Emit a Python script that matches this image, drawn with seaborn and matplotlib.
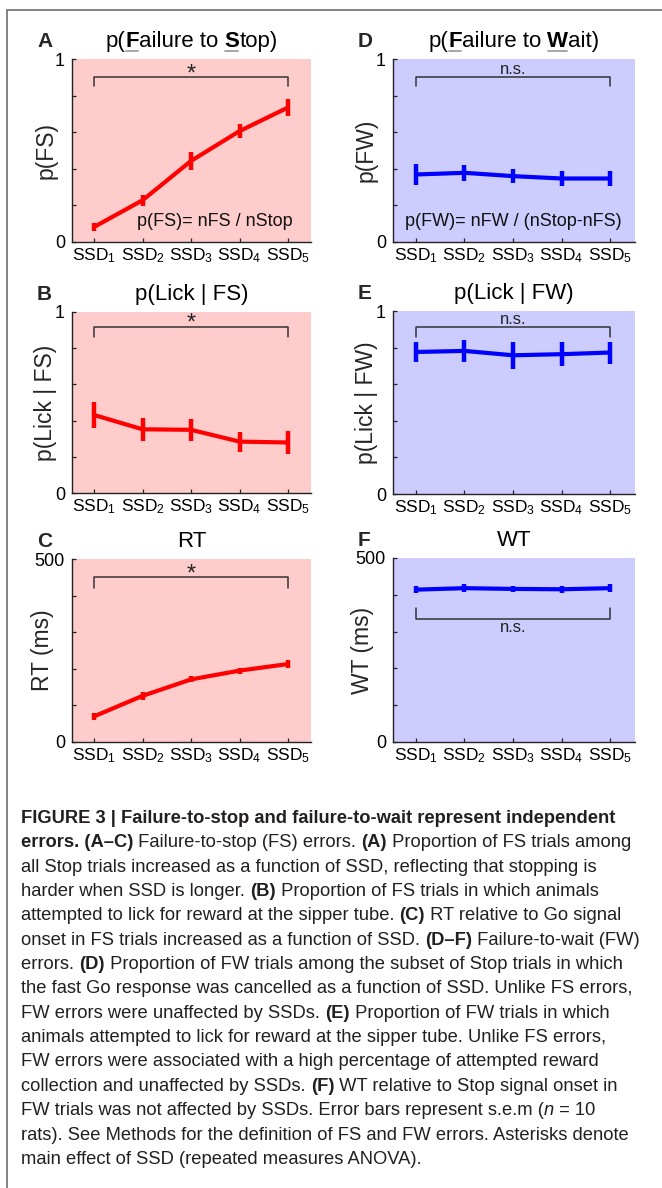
import matplotlib
matplotlib.use("Agg")
import matplotlib.pyplot as plt
from matplotlib.transforms import IdentityTransform
from matplotlib.lines import Line2D
import seaborn as sns
import pandas as pd
from matplotlib import font_manager

# ---------------- data ----------------
ssd_x = [1, 2, 3, 4, 5]
ssd_labels = ["SSD$_1$", "SSD$_2$", "SSD$_3$", "SSD$_4$", "SSD$_5$"]

pfs_mean = [0.082, 0.228, 0.443, 0.606, 0.735]
pfs_sem = [0.023, 0.030, 0.050, 0.040, 0.045]

plick_fs_mean = [0.431, 0.352, 0.349, 0.284, 0.279]
plick_fs_sem = [0.070, 0.062, 0.060, 0.055, 0.062]

rt_mean = [70, 126, 171, 195, 213]
rt_sem = [9, 10, 8, 8, 11]

pfw_mean = [0.369, 0.378, 0.360, 0.347, 0.347]
pfw_sem = [0.055, 0.045, 0.040, 0.042, 0.040]

plick_fw_mean = [0.776, 0.782, 0.758, 0.764, 0.773]
plick_fw_sem = [0.057, 0.062, 0.073, 0.067, 0.060]

wt_mean = [414, 418, 416, 415, 418]
wt_sem = [10, 10, 8, 10, 10]

caption_lines = [
    [("FIGURE 3 | Failure-to-stop and failure-to-wait represent independent", "b")],
    [("errors. (A\u2013C)", "b"), (" Failure-to-stop (FS) errors. ", "n"), ("(A)", "b"),
     (" Proportion of FS trials among", "n")],
    [("all Stop trials increased as a function of SSD, reflecting that stopping is", "n")],
    [("harder when SSD is longer. ", "n"), ("(B)", "b"), (" Proportion of FS trials in which animals", "n")],
    [("attempted to lick for reward at the sipper tube. ", "n"), ("(C)", "b"),
     (" RT relative to Go signal", "n")],
    [("onset in FS trials increased as a function of SSD. ", "n"), ("(D\u2013F)", "b"),
     (" Failure-to-wait (FW)", "n")],
    [("errors. ", "n"), ("(D)", "b"), (" Proportion of FW trials among the subset of Stop trials in which", "n")],
    [("the fast Go response was cancelled as a function of SSD. Unlike FS errors,", "n")],
    [("FW errors were unaffected by SSDs. ", "n"), ("(E)", "b"), (" Proportion of FW trials in which", "n")],
    [("animals attempted to lick for reward at the sipper tube. Unlike FS errors,", "n")],
    [("FW errors were associated with a high percentage of attempted reward", "n")],
    [("collection and unaffected by SSDs. ", "n"), ("(F)", "b"), (" WT relative to Stop signal onset in", "n")],
    [("FW trials was not affected by SSDs. Error bars represent s.e.m (", "n"), ("n", "i"), (" = 10", "n")],
    [("rats). See Methods for the definition of FS and FW errors. Asterisks denote", "n")],
    [("main effect of SSD (repeated measures ANOVA).", "n")],
]

# ---------------- style ----------------
sns.set_style("ticks")
plt.rcParams["font.family"] = ["Liberation Sans", "DejaVu Sans"]
plt.rcParams["mathtext.fontset"] = "custom"
plt.rcParams["mathtext.rm"] = "Liberation Sans"
plt.rcParams["mathtext.it"] = "Liberation Sans:italic"
plt.rcParams["mathtext.bf"] = "Liberation Sans:bold"

W, H = 662, 1188
fig = plt.figure(figsize=(W / 100, H / 100), dpi=100)
fig.patch.set_facecolor("white")
renderer = fig.canvas.get_renderer()

RED = "#ff0000"
BLUE = "#0000ff"
PINK = "#ffcccc"
LAV = "#ccccff"
DARK = "#222222"


def px_axes(left, top, right, bottom):
    return fig.add_axes([left / W, 1 - bottom / H, (right - left) / W, (bottom - top) / H])


def seg_width(text, size, weight="normal", style="normal", family=None):
    kw = dict(fontsize=size, fontweight=weight, fontstyle=style)
    if family:
        kw["family"] = family
    t1 = fig.text(0, 0, "|" + text + "|", **kw)
    t2 = fig.text(0, 0, "||", **kw)
    w = t1.get_window_extent(renderer).width - t2.get_window_extent(renderer).width
    t1.remove()
    t2.remove()
    return w


def rich_text(x, y_top, segments, size, ha="left", family=None, color="black"):
    # segments: (text, flag) flag in n,b,i,u (u = bold+underlined)
    widths = []
    for txt, fl in segments:
        weight = "bold" if fl in ("b", "u") else "normal"
        style = "italic" if fl == "i" else "normal"
        widths.append(seg_width(txt, size, weight, style, family))
    total = sum(widths)
    x0 = x - total / 2 if ha == "center" else x
    yd = H - y_top
    for (txt, fl), w in zip(segments, widths):
        weight = "bold" if fl in ("b", "u") else "normal"
        style = "italic" if fl == "i" else "normal"
        kw = dict(fontsize=size, fontweight=weight, fontstyle=style, color=color,
                  va="baseline", ha="left", transform=IdentityTransform())
        if family:
            kw["family"] = family
        fig.text(x0, yd, txt, **kw)
        if fl == "u":
            fig.add_artist(Line2D([x0 + 1, x0 + w - 1], [yd - 4, yd - 4],
                                  transform=IdentityTransform(), color="#a0a0a0", lw=1.3))
        x0 += w
    return total


panels = [
    dict(letter="A", title=[("p(", "n"), ("F", "u"), ("ailure to ", "n"), ("S", "u"), ("top)", "n")],
         box=(72, 59, 311, 242), xlim=(0.546, 5.474), mean=pfs_mean, sem=pfs_sem, color=RED, bg=PINK,
         ylabel="p(FS)", ymax=1, yticks=[0, 0.2, 0.4, 0.6, 0.8, 1], ytl=["0", "", "", "", "", "1"],
         bracket=(0.90, 0.85), sig="*", sig_y=0.885, note=("p(FS)= nFS / nStop", 5.10, 0.088, "right")),
    dict(letter="B", title=[("p(Lick | FS)", "n")],
         box=(72, 312, 311, 493), xlim=(0.546, 5.474), mean=plick_fs_mean, sem=plick_fs_sem, color=RED, bg=PINK,
         ylabel="p(Lick | FS)", ymax=1, yticks=[0, 0.2, 0.4, 0.6, 0.8, 1], ytl=["0", "", "", "", "", "1"],
         bracket=(0.917, 0.862), sig="*", sig_y=0.905, note=None),
    dict(letter="C", title=[("RT", "n")],
         box=(72, 559, 311, 742), xlim=(0.546, 5.474), mean=rt_mean, sem=rt_sem, color=RED, bg=PINK,
         ylabel="RT (ms)", ymax=500, yticks=[0, 100, 200, 300, 400, 500], ytl=["0", "", "", "", "", "500"],
         bracket=(451, 420), sig="*", sig_y=442, note=None),
    dict(letter="D", title=[("p(", "n"), ("F", "u"), ("ailure to ", "n"), ("W", "u"), ("ait)", "n")],
         box=(393, 59, 635, 242), xlim=(0.526, 5.515), mean=pfw_mean, sem=pfw_sem, color=BLUE, bg=LAV,
         ylabel="p(FW)", ymax=1, yticks=[0, 0.2, 0.4, 0.6, 0.8, 1], ytl=["0", "", "", "", "", "1"],
         bracket=(0.90, 0.85), sig="n.s.", sig_y=0.92, note=("p(FW)= nFW / (nStop-nFS)", 3.0, 0.088, "center")),
    dict(letter="E", title=[("p(Lick | FW)", "n")],
         box=(393, 311, 635, 494), xlim=(0.526, 5.515), mean=plick_fw_mean, sem=plick_fw_sem, color=BLUE, bg=LAV,
         ylabel="p(Lick | FW)", ymax=1, yticks=[0, 0.2, 0.4, 0.6, 0.8, 1], ytl=["0", "", "", "", "", "1"],
         bracket=(0.913, 0.86), sig="n.s.", sig_y=0.93, note=None),
    dict(letter="F", title=[("WT", "n")],
         box=(393, 558, 635, 742), xlim=(0.526, 5.515), mean=wt_mean, sem=wt_sem, color=BLUE, bg=LAV,
         ylabel="WT (ms)", ymax=500, yticks=[0, 100, 200, 300, 400, 500], ytl=["0", "", "", "", "", "500"],
         bracket=(334.5, 363.6), sig="n.s.", sig_y=300, note=None),
]

for p in panels:
    l, t, r, b = p["box"]
    ax = px_axes(l, t, r, b)
    ax.set_facecolor(p["bg"])
    df = pd.DataFrame({"ssd": ssd_x, "val": p["mean"], "sem": p["sem"]})
    sns.lineplot(data=df, x="ssd", y="val", color=p["color"], lw=3.0, ax=ax,
                 solid_capstyle="butt", zorder=3)
    ax.errorbar(df["ssd"], df["val"], yerr=df["sem"], fmt="none", ecolor=p["color"],
                elinewidth=3.2, capsize=0, zorder=4)
    ax.set_xlim(*p["xlim"])
    ax.set_ylim(0, p["ymax"])
    ax.set_xticks(ssd_x)
    ax.set_xticklabels(ssd_labels, fontsize=12.5)
    ax.set_yticks(p["yticks"])
    ax.set_yticklabels(p["ytl"], fontsize=13)
    ax.tick_params(axis="both", direction="in", length=3, width=0.9, color=DARK, labelcolor="black")
    ax.tick_params(axis="x", pad=3)
    ax.tick_params(axis="y", pad=5)
    ax.set_xlabel("")
    ax.set_ylabel(p["ylabel"], fontsize=16.5)
    ax.yaxis.set_label_coords(-0.11 if p["ymax"] == 1 else -0.125, 0.5)
    ax.yaxis.label.set_verticalalignment("center")
    for s in ("top", "right"):
        ax.spines[s].set_visible(False)
    for s in ("left", "bottom"):
        ax.spines[s].set_color(DARK)
        ax.spines[s].set_linewidth(1.0)

    # significance bracket
    yb, ya = p["bracket"]
    ax.plot([1, 1, 5, 5], [ya, yb, yb, ya], color="#333333", lw=1.1, zorder=2)
    ax.text(3, p["sig_y"], p["sig"], ha="center", va="baseline",
            fontsize=17 if p["sig"] == "*" else 12, color="#222222")
    if p["note"]:
        txt, nx, ny, nha = p["note"]
        ax.text(nx, ny, txt, ha=nha, va="baseline", fontsize=13, color="#111111", zorder=5)

    # title and panel letter
    cx = (l + r) / 2
    rich_text(cx, t - 12, p["title"], 16, ha="center")
    fig.text(l - 35, H - (t - 12), p["letter"], fontsize=15, fontweight="bold",
             va="baseline", ha="left", transform=IdentityTransform())

# ---------------- caption ----------------
avail = {f.name for f in font_manager.fontManager.ttflist}
cap_family = ["Liberation Sans Narrow", "Liberation Sans"] if "Liberation Sans Narrow" in avail \
    else ["Liberation Sans", "DejaVu Sans"]

ref_w = sum(seg_width(txt, 10, "bold" if fl == "b" else "normal",
                      "italic" if fl == "i" else "normal", cap_family)
            for txt, fl in caption_lines[1])
cap_size = 10 * 612 / ref_w

for i, line in enumerate(caption_lines):
    rich_text(21, 823 + i * 24.35, line, cap_size, family=cap_family, color="#231f20")

# frame
fig.add_artist(Line2D([7, W], [H - 10, H - 10], transform=IdentityTransform(), color="#7a7a7a", lw=1.3))
fig.add_artist(Line2D([7, 7], [0, H - 10], transform=IdentityTransform(), color="#7a7a7a", lw=1.3))

fig.savefig("out.png", dpi=100, facecolor="white")
